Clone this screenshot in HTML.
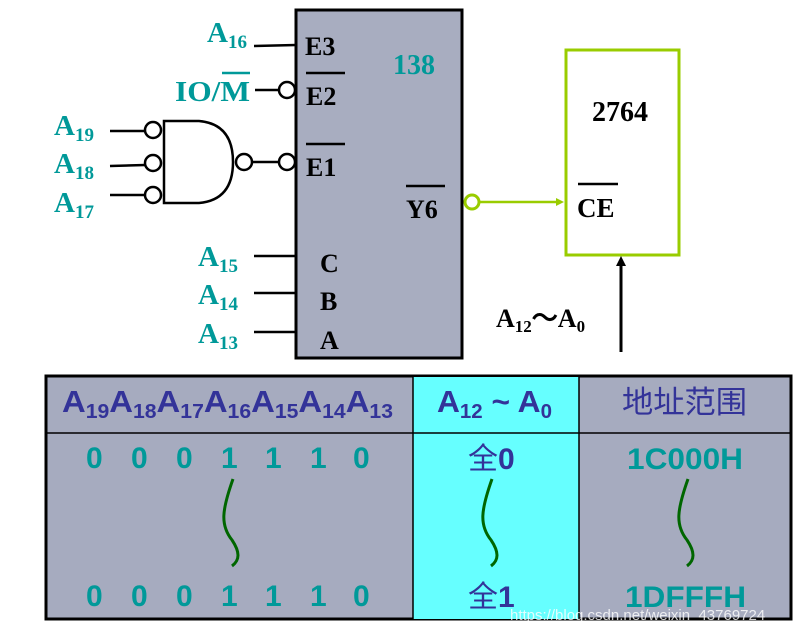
<!DOCTYPE html>
<html><head><meta charset="utf-8"><style>
html,body{margin:0;padding:0;background:#fff;width:794px;height:635px;overflow:hidden}
svg{display:block}
</style></head><body>
<svg width="794" height="635" viewBox="0 0 794 635" xmlns="http://www.w3.org/2000/svg">
<rect x="296" y="10" width="166" height="348" fill="#A8ADC0" stroke="#000" stroke-width="3"/>
<g font-family="Liberation Serif, serif" font-weight="bold" font-size="26" fill="#000">
<text x="305" y="55">E3</text>
<text x="306" y="105">E2</text>
<text x="306" y="176">E1</text>
<text x="406" y="218">Y6</text>
<text x="320" y="272">C</text>
<text x="320" y="310">B</text>
<text x="320" y="349">A</text>
</g>
<g stroke="#000" stroke-width="2.5">
<line x1="306" y1="73" x2="345" y2="73"/>
<line x1="306" y1="144" x2="345" y2="144"/>
<line x1="406" y1="186" x2="445" y2="186"/>
</g>
<text x="393" y="74" font-family="Liberation Serif, serif" font-weight="bold" font-size="28" fill="#009999">138</text>
<g stroke="#000" stroke-width="2.5" fill="none">
<line x1="254" y1="46" x2="296" y2="45"/>
<line x1="255" y1="90" x2="278" y2="90"/>
<circle cx="287" cy="90" r="8" fill="#fff"/>
<line x1="110" y1="131" x2="145" y2="131"/>
<line x1="110" y1="166" x2="145" y2="165"/>
<line x1="110" y1="195" x2="145" y2="195"/>
<circle cx="153" cy="130" r="8" fill="#fff"/>
<circle cx="153" cy="163" r="8" fill="#fff"/>
<circle cx="153" cy="195" r="8" fill="#fff"/>
<path d="M164 121 L199 121 Q233 124 233 162 Q233 200 199 203 L164 203 Z"/>
<circle cx="244" cy="162" r="8" fill="#fff"/>
<line x1="252" y1="162" x2="278" y2="162"/>
<circle cx="287" cy="162" r="8" fill="#fff"/>
<line x1="254" y1="256" x2="296" y2="256"/>
<line x1="254" y1="293" x2="296" y2="293"/>
<line x1="254" y1="332" x2="296" y2="332"/>
</g>
<g font-family="Liberation Serif, serif" font-weight="bold" fill="#009999">
<text x="207" y="42" font-size="29">A<tspan font-size="19" dy="6">16</tspan></text>
<text x="175" y="101" font-size="29" textLength="75" lengthAdjust="spacingAndGlyphs">IO/M</text>
<text x="54" y="135" font-size="29">A<tspan font-size="19" dy="6">19</tspan></text>
<text x="54" y="173" font-size="29">A<tspan font-size="19" dy="6">18</tspan></text>
<text x="54" y="212" font-size="29">A<tspan font-size="19" dy="6">17</tspan></text>
<text x="198" y="266" font-size="29">A<tspan font-size="19" dy="6">15</tspan></text>
<text x="198" y="304" font-size="29">A<tspan font-size="19" dy="6">14</tspan></text>
<text x="198" y="343" font-size="29">A<tspan font-size="19" dy="6">13</tspan></text>
</g>
<line x1="222" y1="73" x2="250" y2="73" stroke="#009999" stroke-width="2.5"/>
<rect x="566" y="50" width="113" height="205" fill="#fff" stroke="#99CC00" stroke-width="3"/>
<circle cx="472" cy="202" r="7" fill="#fff" stroke="#99CC00" stroke-width="3"/>
<line x1="479" y1="202" x2="558" y2="202" stroke="#99CC00" stroke-width="2.5"/>
<polygon points="564,202 556,198 556,206" fill="#99CC00"/>
<g font-family="Liberation Serif, serif" font-weight="bold" fill="#000">
<text x="592" y="121" font-size="28">2764</text>
<text x="577" y="217" font-size="27">CE</text>
<text x="496" y="327" font-size="26">A<tspan font-size="17" dy="5">12</tspan><tspan dy="-5">～A</tspan><tspan font-size="17" dy="5">0</tspan></text>
</g>
<line x1="578" y1="184" x2="618" y2="184" stroke="#000" stroke-width="2.5"/>
<line x1="621" y1="352" x2="621" y2="264" stroke="#000" stroke-width="3"/>
<polygon points="621,256 616,266 626,266" fill="#000"/>
<rect x="46" y="376" width="745" height="243" fill="#A6ABBF" stroke="#000" stroke-width="3"/>
<rect x="413" y="377" width="166" height="242" fill="#66FFFF"/>
<line x1="47" y1="433" x2="790" y2="433" stroke="#000" stroke-width="1.5"/>
<line x1="413" y1="377" x2="413" y2="619" stroke="#000" stroke-width="1.5"/>
<line x1="579" y1="377" x2="579" y2="619" stroke="#000" stroke-width="1.5"/>
<g font-family="Liberation Sans, Noto Sans CJK SC, sans-serif" fill="#333399">
<text x="62" y="412" font-size="31" font-weight="bold" textLength="331" lengthAdjust="spacingAndGlyphs">A<tspan font-size="20" dy="6">19</tspan><tspan dy="-6">A</tspan><tspan font-size="20" dy="6">18</tspan><tspan dy="-6">A</tspan><tspan font-size="20" dy="6">17</tspan><tspan dy="-6">A</tspan><tspan font-size="20" dy="6">16</tspan><tspan dy="-6">A</tspan><tspan font-size="20" dy="6">15</tspan><tspan dy="-6">A</tspan><tspan font-size="20" dy="6">14</tspan><tspan dy="-6">A</tspan><tspan font-size="20" dy="6">13</tspan></text>
<text x="437" y="412" font-size="31" font-weight="bold" textLength="115" lengthAdjust="spacingAndGlyphs">A<tspan font-size="20" dy="6">12</tspan><tspan dy="-6"> ~ A</tspan><tspan font-size="20" dy="6">0</tspan></text>
<text x="622" y="413" font-size="31" textLength="125" lengthAdjust="spacingAndGlyphs">地址范围</text>
</g>
<g font-family="Liberation Sans, sans-serif" font-size="30" font-weight="bold" fill="#009999">
<text x="86" y="468">0</text><text x="131" y="468">0</text><text x="176" y="468">0</text><text x="221" y="468">1</text><text x="265" y="468">1</text><text x="310" y="468">1</text><text x="353" y="468">0</text>
<text x="86" y="606">0</text><text x="131" y="606">0</text><text x="176" y="606">0</text><text x="221" y="606">1</text><text x="265" y="606">1</text><text x="310" y="606">1</text><text x="353" y="606">0</text>
<text x="627" y="469" textLength="116" lengthAdjust="spacingAndGlyphs">1C000H</text>
<text x="625" y="607" textLength="121" lengthAdjust="spacingAndGlyphs">1DFFFH</text>
</g>
<g font-family="Liberation Sans, Noto Sans CJK SC, sans-serif" font-size="30" fill="#333399">
<text x="468" y="469">全<tspan font-weight="bold">0</tspan></text>
<text x="468" y="607">全<tspan font-weight="bold">1</tspan></text>
</g>
<g stroke="#006600" stroke-width="3" fill="none">
<path d="M233 479 C222 510 220 525 232 540 C240 552 240 560 232 566"/>
<path d="M492 479 C481 510 479 525 491 540 C499 552 499 560 491 566"/>
<path d="M688 479 C677 510 675 525 687 540 C695 552 695 560 687 566"/>
</g>
<text x="510" y="620" font-family="Liberation Sans, sans-serif" font-size="15" fill="#ffffff" opacity="0.8">https://blog.csdn.net/weixin_43769724</text>
</svg>
</body></html>
